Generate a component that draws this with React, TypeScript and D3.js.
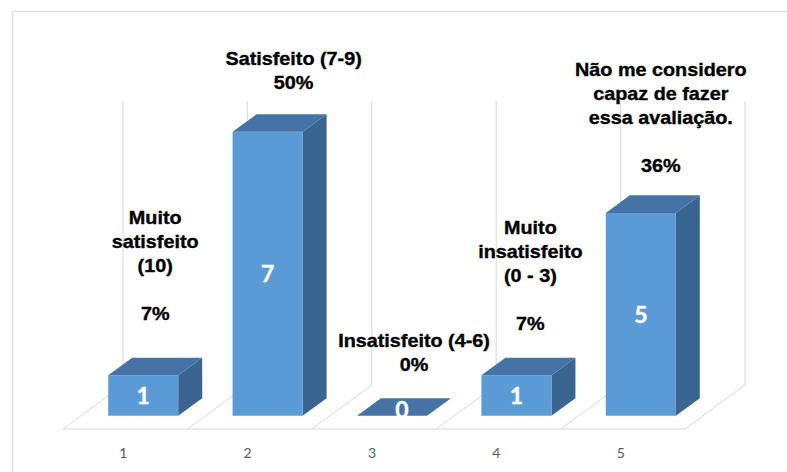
import React from "react";
import * as d3 from "d3";

// ---- data ----
const categories = ["1", "2", "3", "4", "5"];
const values = [1, 7, 0, 1, 5];
const percentLabels = ["7%", "50%", "0%", "7%", "36%"];
const nameLabels: string[][] = [
  ["Muito", "satisfeito", "(10)"],
  ["Satisfeito (7-9)"],
  ["Insatisfeito (4-6)"],
  ["Muito", "insatisfeito", "(0 - 3)"],
  ["Não me considero", "capaz de fazer", "essa avaliação."],
];
const blankBeforePercent = [true, false, false, true, true];
const valueMax = 7;

// ---- layout (not data) ----
const W = 787;
const H = 472;
const originX = 63;
const originY = 429;
const floorWidth = 622;
const depthDx = 60;
const depthDy = 44;
const plotHeight = 284;
const barFrac = 0.563;
const d0 = 0.3;
const d1 = 0.7;
const labelDx = [0, 14, 10, 2, 8];
const labelDy = [-38, -25, -27, -28, -23];
const lineH = 24;

const colFront = "#5b9bd5";
const colTop = "#4673a6";
const colSide = "#3a6591";
const gridCol = "#d9d9d9";

export default function App() {
  const xCat = d3.scaleBand<string>().domain(categories).range([0, floorWidth]).padding(0);
  const yVal = d3.scaleLinear().domain([0, valueMax]).range([0, plotHeight]);
  const proj = (xu: number, d: number, v: number): [number, number] => [
    originX + xu + d * depthDx,
    originY - d * depthDy - yVal(v),
  ];
  const poly = (pts: [number, number][]) => pts.map((p) => p.join(",")).join(" ");
  const bw = xCat.bandwidth();
  const boundaries = categories.map((c) => xCat(c)!).concat([floorWidth]);

  return (
    <svg
      width={W}
      height={H}
      style={{ position: "absolute", left: 0, top: 0, background: "#fff" }}
    >
      <rect x={0} y={0} width={W} height={H} fill="#fff" />
      {/* chart frame */}
      <path d={`M12.5,${H + 5} L12.5,11.5 L${W + 5},11.5`} fill="none" stroke="#e0e0e0" strokeWidth={1.5} />

      {/* floor and back-wall gridlines */}
      <g stroke={gridCol} strokeWidth={1} fill="none">
        <line
          x1={proj(0, 0, 0)[0]}
          y1={proj(0, 0, 0)[1]}
          x2={proj(floorWidth, 0, 0)[0]}
          y2={proj(floorWidth, 0, 0)[1]}
        />
        {boundaries.map((b, i) => {
          const a = proj(b, 0, 0);
          const c = proj(b, 1, 0);
          const t = proj(b, 1, valueMax);
          return (
            <g key={i}>
              <line x1={a[0]} y1={a[1]} x2={c[0]} y2={c[1]} />
              <line x1={c[0]} y1={c[1]} x2={t[0]} y2={t[1]} />
            </g>
          );
        })}
      </g>

      {/* bars */}
      {categories.map((c, i) => {
        const v = values[i];
        const xc = xCat(c)! + bw / 2;
        const x0 = xc - (bw * barFrac) / 2;
        const x1 = xc + (bw * barFrac) / 2;
        const front = poly([proj(x0, d0, 0), proj(x1, d0, 0), proj(x1, d0, v), proj(x0, d0, v)]);
        const top = poly([proj(x0, d0, v), proj(x1, d0, v), proj(x1, d1, v), proj(x0, d1, v)]);
        const side = poly([proj(x1, d0, 0), proj(x1, d1, 0), proj(x1, d1, v), proj(x1, d0, v)]);
        const fc = proj(xc, d0, v / 2);
        const lx = v === 0 ? proj(xc, 0.5, 0)[0] - 2 : fc[0];
        const ly = v === 0 ? proj(xc, 0.5, 0)[1] + 3 : fc[1];
        return (
          <g key={c}>
            {v > 0 && <polygon points={side} fill={colSide} />}
            {v > 0 && <polygon points={front} fill={colFront} />}
            <polygon points={top} fill={colTop} />
            <text
              x={lx}
              y={ly}
              dy="0.36em"
              textAnchor="middle"
              fill="#fff"
              stroke="#fff"
              strokeWidth={0.4}
              fontFamily="Lato, 'Open Sans', sans-serif"
              fontWeight="bold"
              fontSize={23}
            >
              {v}
            </text>
          </g>
        );
      })}

      {/* category data labels */}
      {categories.map((c, i) => {
        const v = values[i];
        const xc = xCat(c)! + bw / 2;
        const mid = proj(xc, 0.5, v)[0] + labelDx[i];
        const lastBase = proj(xc, d1, v)[1] + labelDy[i];
        const lines = [...nameLabels[i]];
        if (blankBeforePercent[i]) lines.push("");
        lines.push(percentLabels[i]);
        const n = lines.length;
        return (
          <g key={"l" + c} transform={`translate(${mid},0)`}>
            <g transform="scale(1.1,1)">
              {lines.map((t, j) =>
                t ? (
                  <text
                    key={j}
                    x={0}
                    y={lastBase - (n - 1 - j) * lineH}
                    textAnchor="middle"
                    fontFamily="'Liberation Sans', Arial, sans-serif"
                    fontWeight="bold"
                    fontSize={18}
                    fill="#000"
                    stroke="#000"
                    strokeWidth={0.35}
                  >
                    {t}
                  </text>
                ) : null
              )}
            </g>
          </g>
        );
      })}

      {/* category axis labels */}
      {categories.map((c) => {
        const p = proj(xCat(c)! + bw / 2, 0, 0);
        return (
          <text
            key={"a" + c}
            x={p[0] - 2}
            y={458}
            textAnchor="middle"
            fill="#595959"
            fontFamily="Lato, 'Open Sans', sans-serif"
            fontSize={14}
          >
            {c}
          </text>
        );
      })}
    </svg>
  );
}
